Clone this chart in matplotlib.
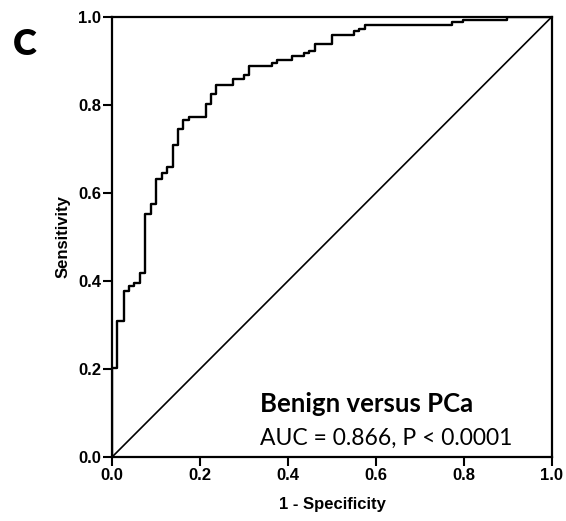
import matplotlib
matplotlib.use("Agg")
import matplotlib.pyplot as plt

# ROC curve points (1 - specificity, sensitivity)
fpr = [0.0, 0.012, 0.026, 0.039, 0.051, 0.064, 0.075, 0.088, 0.100, 0.113,
       0.126, 0.138, 0.151, 0.162, 0.176, 0.214, 0.225, 0.236, 0.276, 0.300,
       0.312, 0.363, 0.375, 0.410, 0.436, 0.448, 0.461, 0.499, 0.549, 0.562,
       0.575, 0.772, 0.798, 0.897, 1.0]
tpr = [0.0, 0.203, 0.310, 0.376, 0.389, 0.396, 0.419, 0.553, 0.574, 0.632,
       0.645, 0.658, 0.709, 0.745, 0.766, 0.773, 0.802, 0.824, 0.845, 0.858,
       0.867, 0.889, 0.895, 0.902, 0.910, 0.917, 0.923, 0.939, 0.959, 0.967,
       0.973, 0.982, 0.987, 0.993, 1.0]

ticks = [0.0, 0.2, 0.4, 0.6, 0.8, 1.0]
tick_labels = ["0.0", "0.2", "0.4", "0.6", "0.8", "1.0"]

panel = "C"
title = "Benign versus PCa"
stats = "AUC = 0.866, P < 0.0001"

plt.rcParams['font.family'] = ['Liberation Sans', 'DejaVu Sans']

fig = plt.figure(figsize=(5.66, 5.21), dpi=100)
ax = fig.add_axes([0.198, 0.1228, 0.777, 0.845])

# reference line and ROC curve
ax.plot([0, 1], [0, 1], color="black", lw=1.2)
ax.plot(fpr, tpr, color="black", lw=1.7, drawstyle="steps-pre")

ax.set_xlim(0, 1)
ax.set_ylim(0, 1)
ax.set_xticks(ticks)
ax.set_yticks(ticks)
ax.set_xticklabels(tick_labels, fontsize=12, fontweight="bold")
ax.set_yticklabels(tick_labels, fontsize=12, fontweight="bold")
ax.tick_params(direction="out", length=6.5, width=1.5, pad=1.5)
for s in ax.spines.values():
    s.set_linewidth(1.6)

ax.set_xlabel("1 - Specificity", fontsize=12, fontweight="bold", labelpad=10)
ax.set_ylabel("Sensitivity", fontsize=12, fontweight="bold", labelpad=5)

ax.text(0.336, 0.103, title, fontsize=18.5, fontweight="bold",
        family=["Lato", "DejaVu Sans"], va="baseline")
ax.text(0.336, 0.027, stats, fontsize=16.5,
        family=["Lato", "DejaVu Sans"], va="baseline")

fig.text(0.023, 0.894, panel, fontsize=26, fontweight="heavy",
         family=["Lato", "DejaVu Sans"], va="baseline")

fig.savefig("out.png", dpi=100)
